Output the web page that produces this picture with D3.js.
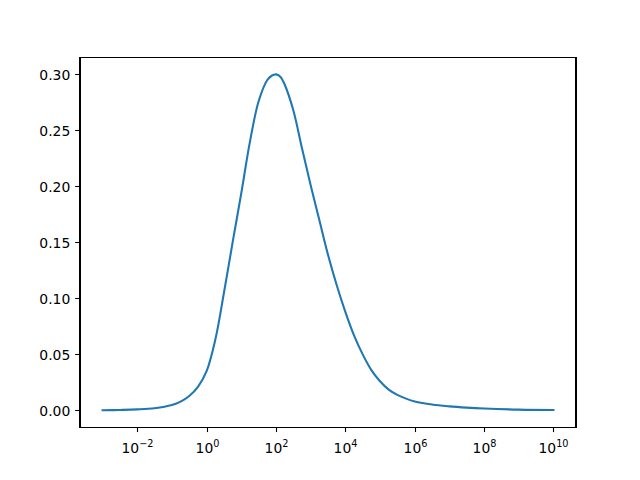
<!DOCTYPE html>
<html>
<head>
<meta charset="utf-8">
<script src="https://cdn.jsdelivr.net/npm/d3@7"></script>
<style>
  html, body { margin: 0; padding: 0; background: #fff; }
  svg { display: block; }
  text { font-family: "DejaVu Sans", sans-serif; fill: #000; }
</style>
</head>
<body>
<svg id="chart" width="640" height="480"></svg>
<script>
// ---- data ----
const logX = [-3, -2.5, -2, -1.5, -1, -0.75, -0.5, -0.25, 0, 0.25, 0.5, 0.75, 1.0, 1.25, 1.5, 1.75, 1.875, 2.0, 2.125,
              2.25, 2.5, 2.75, 3.0, 3.25, 3.5, 3.75, 4.0, 4.25, 4.5, 4.75, 5.0, 5.25, 5.5, 5.75, 6.0, 6.5, 7.0, 7.5, 8.0, 9.0, 10.0];
const yValues = [0.0001, 0.0004, 0.0009, 0.002, 0.0048, 0.0078, 0.0128, 0.021, 0.035, 0.063, 0.105, 0.150, 0.194, 0.240, 0.276, 0.295, 0.2988, 0.300, 0.2980,
                 0.291, 0.268, 0.234, 0.201, 0.170, 0.139, 0.112, 0.088, 0.067, 0.050, 0.036, 0.026, 0.0185, 0.0138, 0.0105, 0.0080, 0.0052, 0.0036, 0.0025, 0.0017, 0.0007, 0.0003];
const xTickExponents = [-2, 0, 2, 4, 6, 8, 10];
const yTicks = [0.00, 0.05, 0.10, 0.15, 0.20, 0.25, 0.30];

const data = logX.map((k, i) => ({ x: Math.pow(10, k), y: yValues[i] }));

// ---- layout (matplotlib defaults) ----
const plotLeft = 80, plotRight = 576, plotTop = 57.6, plotBottom = 427.2;

const svg = d3.select("#chart");

const x = d3.scaleLog()
  .domain([Math.pow(10, -3.65), Math.pow(10, 10.65)])
  .range([plotLeft, plotRight]);
const y = d3.scaleLinear()
  .domain([-0.015, 0.315])
  .range([plotBottom, plotTop]);

// line
const line = d3.line()
  .x(d => x(d.x))
  .y(d => y(d.y))
  .curve(d3.curveCatmullRom.alpha(0.5));

svg.append("path")
  .datum(data)
  .attr("d", line)
  .attr("fill", "none")
  .attr("stroke", "#1f77b4")
  .attr("stroke-width", 2.08)
  .attr("stroke-linejoin", "round")
  .attr("stroke-linecap", "square");

// frame
svg.append("rect")
  .attr("x", plotLeft).attr("y", plotTop)
  .attr("width", plotRight - plotLeft).attr("height", plotBottom - plotTop)
  .attr("fill", "none")
  .attr("stroke", "#000")
  .attr("stroke-width", 1.1)
  .attr("shape-rendering", "crispEdges");

const tickLen = 4.86, pad = 4.86, fs = 13.9;

// x axis ticks
const xg = svg.append("g");
xTickExponents.forEach(k => {
  const px = Math.round(x(Math.pow(10, k))) + 0.5;
  xg.append("line")
    .attr("x1", px).attr("x2", px)
    .attr("y1", plotBottom).attr("y2", plotBottom + tickLen)
    .attr("stroke", "#000").attr("stroke-width", 1.1);
  const t = xg.append("text")
    .attr("x", px)
    .attr("y", plotBottom + tickLen + pad + 16)
    .attr("text-anchor", "middle")
    .attr("font-size", fs);
  t.append("tspan").text("10");
  t.append("tspan")
    .attr("font-size", fs * 0.7)
    .attr("dy", -6)
    .text(k < 0 ? "\u2212" + Math.abs(k) : String(k));
});

// y axis ticks
const yg = svg.append("g");
yTicks.forEach(v => {
  const py = Math.round(y(v)) + 0.5;
  yg.append("line")
    .attr("x1", plotLeft - tickLen).attr("x2", plotLeft)
    .attr("y1", py).attr("y2", py)
    .attr("stroke", "#000").attr("stroke-width", 1.1);
  yg.append("text")
    .attr("x", plotLeft - tickLen - pad)
    .attr("y", py)
    .attr("dy", "0.36em")
    .attr("text-anchor", "end")
    .attr("font-size", fs)
    .text(v.toFixed(2));
});
</script>
</body>
</html>
